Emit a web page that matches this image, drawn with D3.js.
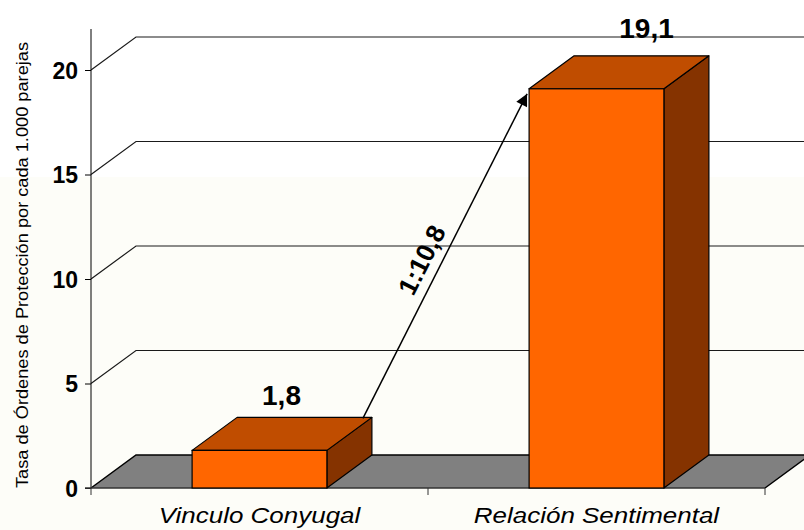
<!DOCTYPE html>
<html>
<head>
<meta charset="utf-8">
<script src="https://cdn.jsdelivr.net/npm/d3@7/dist/d3.min.js"></script>
<style>
html,body{margin:0;padding:0;background:#fff;}
svg{display:block;}
text{font-family:Arial,"Liberation Sans",sans-serif;}
</style>
</head>
<body>
<svg id="chart" width="804" height="530"></svg>
<script>
// ---- data ----
const categories = ["Vinculo Conyugal", "Relación Sentimental"];
const values = [1.8, 19.1];
const valueLabels = ["1,8", "19,1"];
const yTicks = [0, 5, 10, 15, 20];
const ratioLabel = "1:10,8";
const yTitle = "Tasa de Órdenes de Protección por cada 1.000 parejas";

// ---- layout ----
const W = 804, H = 530;
const x0 = 91, x1 = 765, yBase = 488;
const DX = 45, DY = -33;
const svg = d3.select("#chart");

const y = d3.scaleLinear().domain([0, 22]).range([yBase, yBase - 22 * 20.9]);
const x = d3.scaleBand().domain(categories).range([x0, x1]).padding(0);
const barW = x.bandwidth() * 0.4;

// background
svg.append("rect").attr("width", W).attr("height", H).attr("fill", "#ffffff");
svg.append("rect").attr("x", 0).attr("y", 177).attr("width", W).attr("height", H - 177).attr("fill", "#fdfdf8");

// wall gridlines
const gridVals = yTicks.filter(d => d > 0);
svg.append("g").selectAll("path").data(gridVals).join("path")
  .attr("d", d => `M${x0},${y(d)} L${x0 + DX},${y(d) + DY} L${W + 5},${y(d) + DY}`)
  .attr("fill", "none").attr("stroke", "#1a1a1a").attr("stroke-width", 1.2);

// floor
svg.append("path")
  .attr("d", `M${x0},${yBase} L${x0 + DX},${yBase + DY} L${x1 + DX},${yBase + DY} L${x1},${yBase} Z`)
  .attr("fill", "#808080").attr("stroke", "none");
svg.append("path")
  .attr("d", `M${x0},${yBase} L${x0 + DX},${yBase + DY} L${x1 + DX},${yBase + DY} M${x1},${yBase} L${x1 + DX},${yBase + DY}`)
  .attr("fill", "none").attr("stroke", "#000").attr("stroke-width", 1.5);

// axes
const yAxis = d3.axisLeft(y).tickValues(yTicks).tickSize(6).tickFormat(d3.format("d"));
const gy = svg.append("g").attr("transform", `translate(${x0},0)`).call(yAxis);
gy.select(".domain").attr("d", `M0,${y(0)}V${y(0) - 459}`).attr("stroke", "#000");
gy.selectAll(".tick line").attr("stroke", "#000");
gy.selectAll(".tick text").attr("x", -13).attr("dy", "0.36em")
  .attr("font-size", 23).attr("font-weight", "bold").attr("fill", "#000")
  .attr("font-family", "Arial, 'Liberation Sans', sans-serif");

const gx = svg.append("g").attr("transform", `translate(0,${yBase})`);
gx.append("line").attr("x1", x0 - 6).attr("x2", x1).attr("stroke", "#333").attr("stroke-width", 1.5);
const boundaries = [x0].concat(categories.map(c => x(c) + x.bandwidth()));
gx.selectAll("line.t").data(boundaries).join("line").attr("class", "t")
  .attr("x1", d => d).attr("x2", d => d).attr("y1", 0).attr("y2", 7).attr("stroke", "#333");
gx.selectAll("text").data(categories).join("text")
  .attr("x", d => x(d) + x.bandwidth() / 2).attr("y", 35)
  .attr("text-anchor", "middle").attr("font-size", 22).attr("font-style", "italic").attr("fill", "#000")
  .text(d => d)
  .each(function () {
    const L = this.getComputedTextLength();
    d3.select(this).attr("textLength", L * 1.18).attr("lengthAdjust", "spacingAndGlyphs");
  });

// bars (3D)
const bars = svg.append("g").selectAll("g").data(categories.map((c, i) => ({c, v: values[i]}))).join("g");
bars.each(function (d) {
  const g = d3.select(this);
  const L = x(d.c) + (x.bandwidth() - barW) / 2, R = L + barW;
  const T = y(d.v), B = y(0);
  g.append("path").attr("d", `M${R},${B} L${R + DX},${B + DY} L${R + DX},${T + DY} L${R},${T} Z`)
    .attr("fill", "#853300").attr("stroke", "#000").attr("stroke-width", 1.2).attr("stroke-linejoin", "round");
  g.append("path").attr("d", `M${L},${T} L${L + DX},${T + DY} L${R + DX},${T + DY} L${R},${T} Z`)
    .attr("fill", "#c04d00").attr("stroke", "#000").attr("stroke-width", 1.2).attr("stroke-linejoin", "round");
  g.append("rect").attr("x", L).attr("y", T).attr("width", barW).attr("height", B - T)
    .attr("fill", "#ff6600").attr("stroke", "#000").attr("stroke-width", 1.2);
});

// value labels
const labelOffsets = [{dx: 22, dy: -12}, {dx: 50, dy: -18}];
svg.append("g").selectAll("text").data(categories).join("text")
  .attr("x", (c, i) => x(c) + x.bandwidth() / 2 + labelOffsets[i].dx)
  .attr("y", (c, i) => y(values[i]) + DY + labelOffsets[i].dy)
  .attr("text-anchor", "middle").attr("font-size", 28).attr("font-weight", "bold").attr("fill", "#000")
  .text((c, i) => valueLabels[i]);

// arrow
const defs = svg.append("defs");
defs.append("marker").attr("id", "ah").attr("viewBox", "0 0 10 10").attr("refX", 10).attr("refY", 5)
  .attr("markerWidth", 15).attr("markerHeight", 12).attr("markerUnits", "userSpaceOnUse").attr("orient", "auto")
  .append("path").attr("d", "M0,0 L10,5 L0,10 Z").attr("fill", "#000");
const c0 = categories[0], c1 = categories[1];
const ax1 = x(c0) + (x.bandwidth() - barW) / 2 + barW + DX - 9, ay1 = y(values[0]) + DY + 1;
const ax2 = x(c1) + (x.bandwidth() - barW) / 2 - 2, ay2 = y(values[1]) + 5;
svg.append("line").attr("x1", ax1).attr("y1", ay1).attr("x2", ax2).attr("y2", ay2)
  .attr("stroke", "#000").attr("stroke-width", 1.5).attr("marker-end", "url(#ah)");
const ang = Math.atan2(ay2 - ay1, ax2 - ax1) * 180 / Math.PI;
svg.append("text").attr("transform", `translate(430,264) rotate(${ang})`)
  .attr("text-anchor", "middle").attr("font-size", 26).attr("font-weight", "bold").attr("fill", "#000")
  .text(ratioLabel);

// y title
svg.append("text").attr("transform", "translate(28,265) rotate(-90)")
  .attr("text-anchor", "middle").attr("font-size", 16).attr("fill", "#000")
  .attr("textLength", 446).attr("lengthAdjust", "spacingAndGlyphs")
  .text(yTitle);
</script>
</body>
</html>
